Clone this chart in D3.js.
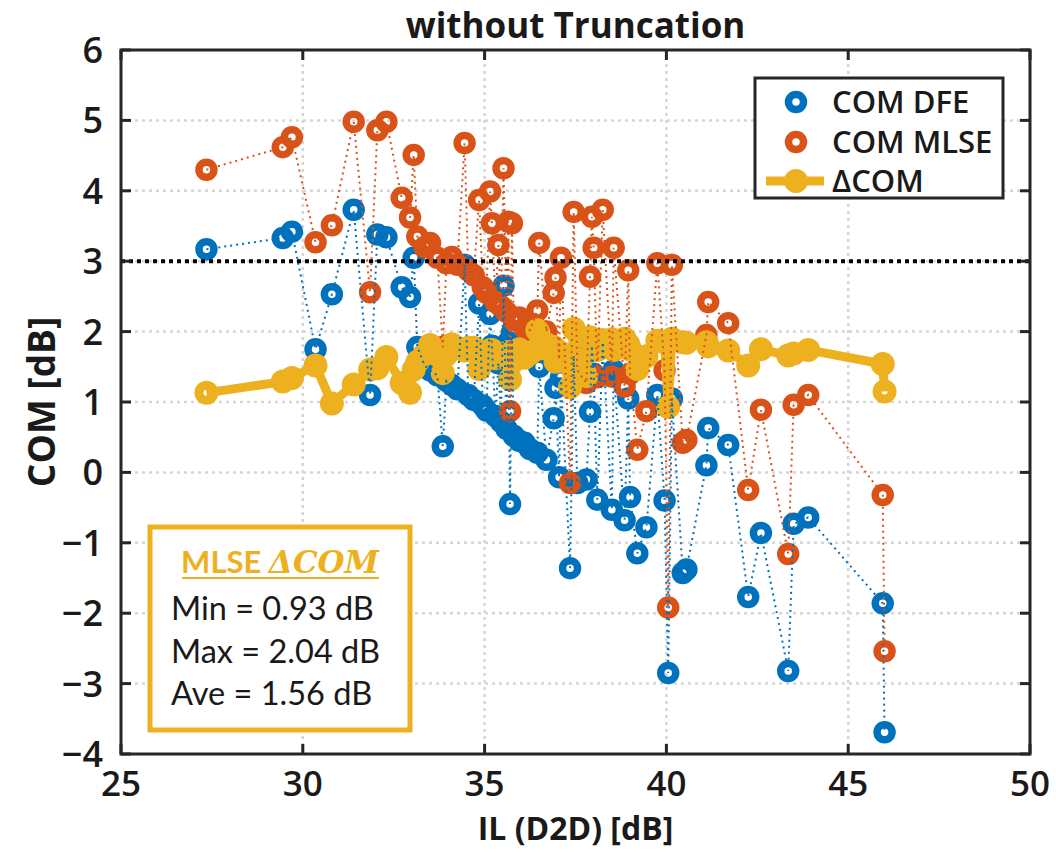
<!DOCTYPE html>
<html>
<head>
<meta charset="utf-8">
<script src="https://cdn.jsdelivr.net/npm/d3@7"></script>
<style>
  body { margin: 0; background: #fff; }
  svg text { font-family: "Open Sans", "DejaVu Sans", sans-serif; fill: #1a1a1a; }
</style>
</head>
<body>
<div id="chart"></div>
<script>
// IL (D2D) in dB, sorted ascending, with COM values
var il = [27.35, 29.45, 29.70, 30.35, 30.80, 31.40, 31.85, 32.05, 32.30, 32.72,
          32.95, 33.05, 33.15, 33.35, 33.50, 33.70, 33.85, 33.95, 34.10, 34.25,
          34.45, 34.55, 34.70, 34.85, 34.95, 35.05, 35.15, 35.20, 35.30, 35.38,
          35.45, 35.52, 35.60, 35.65, 35.70, 35.75, 35.80, 35.95, 36.10, 36.25,
          36.45, 36.50, 36.70, 36.90, 36.95, 37.05, 37.10, 37.35, 37.45, 37.55,
          37.80, 37.90, 37.95, 38.00, 38.10, 38.25, 38.50, 38.55, 38.85, 38.95,
          39.00, 39.20, 39.45, 39.75, 39.95, 40.05, 40.15, 40.45, 40.55, 41.10,
          41.15, 41.70, 42.25, 42.60, 43.35, 43.50, 43.90, 45.95, 46.00];

var comDfe = [3.17, 3.33, 3.42, 1.75, 2.53, 3.73, 1.10, 3.38, 3.34, 2.63,
              2.49, 3.05, 1.78, 1.52, 1.45, 1.38, 0.37, 1.30, 1.24, 1.18,
              2.95, 1.10, 1.03, 2.40, 0.95, 0.88, 2.25, 1.80, 0.80, 1.55,
              0.72, 2.65, 0.62, 1.85, -0.45, 1.98, 0.52, 0.45, 0.42, 0.33,
              0.28, 1.50, 0.18, 0.77, 1.20, -0.07, 1.35, -1.36, 1.66, -0.15,
              -0.10, 0.86, 1.80, 1.40, -0.39, 1.85, -0.53, 1.45, -0.68, 1.05,
              -0.35, -1.15, -0.78, 1.10, -0.40, -2.85, 1.05, -1.43, -1.38, 0.10,
              0.63, 0.39, -1.77, -0.86, -2.82, -0.73, -0.64, -1.86, -3.69];

var comMlse = [4.30, 4.62, 4.76, 3.27, 3.51, 4.98, 2.56, 4.86, 4.98, 3.90,
               3.62, 4.51, 3.35, 3.20, 3.26, 3.05, 1.78, 2.97, 3.06, 2.95,
               4.68, 2.87, 2.80, 3.87, 2.63, 2.55, 3.99, 3.54, 2.42, 3.23,
               2.36, 4.32, 2.28, 3.56, 0.87, 3.54, 2.16, 2.20, 2.05, 2.02,
               2.30, 3.26, 2.00, 2.55, 2.77, 1.60, 3.05, -0.15, 3.70, 1.45,
               1.27, 2.78, 3.63, 3.19, 1.35, 3.73, 1.36, 3.19, 1.22, 2.87,
               1.40, 0.32, 0.87, 2.97, 1.45, -1.92, 2.95, 0.42, 0.46, 1.95,
               2.42, 2.12, -0.25, 0.89, -1.16, 0.96, 1.10, -0.32, -2.54];

var deltaCom = [1.13, 1.29, 1.34, 1.52, 0.98, 1.25, 1.46, 1.48, 1.64, 1.27,
                1.13, 1.46, 1.57, 1.68, 1.81, 1.67, 1.41, 1.67, 1.82, 1.77,
                1.73, 1.77, 1.77, 1.47, 1.68, 1.67, 1.74, 1.74, 1.62, 1.68,
                1.64, 1.67, 1.66, 1.71, 1.32, 1.56, 1.64, 1.75, 1.63, 1.69,
                2.02, 1.76, 1.82, 1.78, 1.57, 1.67, 1.70, 1.21, 2.04, 1.60,
                1.37, 1.92, 1.83, 1.79, 1.74, 1.88, 1.89, 1.74, 1.90, 1.82,
                1.75, 1.47, 1.65, 1.87, 1.85, 0.93, 1.90, 1.85, 1.84, 1.85,
                1.79, 1.73, 1.52, 1.75, 1.66, 1.69, 1.74, 1.54, 1.15];

var xTicks = [25, 30, 35, 40, 45, 50];
var yTicks = [-4, -3, -2, -1, 0, 1, 2, 3, 4, 5, 6];
var threshold = 3;
var legendLabels = ["COM DFE", "COM MLSE", "\u0394COM"];
var statLines = ["Min = 0.93 dB", "Max = 2.04 dB", "Ave = 1.56 dB"];

var colors = ["#0072BD", "#D95319", "#EDB120"];

var W = 1056, H = 852;
var margin = { top: 50, right: 26, bottom: 98, left: 121 };
var width = W - margin.left - margin.right,
    height = H - margin.top - margin.bottom;

var svg = d3.select("#chart").append("svg")
    .attr("width", W)
    .attr("height", H);

var g = svg.append("g")
    .attr("transform", `translate(${margin.left},${margin.top})`);

var x = d3.scaleLinear().domain([25, 50]).range([0, width]);
var y = d3.scaleLinear().domain([-4, 6]).range([height, 0]);

// grid
g.append("g").selectAll("line")
    .data(xTicks.slice(1, -1))
    .enter().append("line")
    .attr("x1", d => x(d)).attr("x2", d => x(d))
    .attr("y1", 0).attr("y2", height)
    .style("stroke", "#d6d6d6").style("stroke-width", 2.5)
    .style("stroke-dasharray", "3,4");

g.append("g").selectAll("line")
    .data(yTicks.slice(1, -1))
    .enter().append("line")
    .attr("x1", 0).attr("x2", width)
    .attr("y1", d => y(d)).attr("y2", d => y(d))
    .style("stroke", "#d6d6d6").style("stroke-width", 2.5)
    .style("stroke-dasharray", "3,4");

var pts = il.map((v, i) => ({ il: v, dfe: comDfe[i], mlse: comMlse[i], delta: deltaCom[i] }));

function line(key) {
    return d3.line().x(d => x(d.il)).y(d => y(d[key]));
}

// markers of DFE and MLSE
[["dfe", colors[0]], ["mlse", colors[1]]].forEach(function(s) {
    g.append("g").selectAll("circle")
        .data(pts)
        .enter().append("circle")
        .attr("cx", d => x(d.il))
        .attr("cy", d => y(d[s[0]]))
        .attr("r", 7.5)
        .style("fill", "none")
        .style("stroke", s[1])
        .style("stroke-width", 7.5);
});

// delta COM line with markers
g.append("path")
    .datum(pts)
    .attr("d", line("delta"))
    .style("fill", "none")
    .style("stroke", colors[2])
    .style("stroke-width", 9)
    .style("stroke-linejoin", "round");

g.append("g").selectAll("circle")
    .data(pts)
    .enter().append("circle")
    .attr("cx", d => x(d.il))
    .attr("cy", d => y(d.delta))
    .attr("r", 7.5)
    .style("fill", "none")
    .style("stroke", colors[2])
    .style("stroke-width", 9);

// dotted connecting lines
[["dfe", colors[0]], ["mlse", colors[1]]].forEach(function(s) {
    g.append("path")
        .datum(pts)
        .attr("d", line(s[0]))
        .style("fill", "none")
        .style("stroke", s[1])
        .style("stroke-width", 2)
        .style("stroke-dasharray", "2,4");
});

// COM threshold
g.append("line")
    .attr("x1", 0).attr("x2", width)
    .attr("y1", y(threshold)).attr("y2", y(threshold))
    .style("stroke", "#000")
    .style("stroke-width", 4)
    .style("stroke-dasharray", "4,4");

// box and ticks
g.append("rect")
    .attr("width", width).attr("height", height)
    .style("fill", "none").style("stroke", "#262626").style("stroke-width", 3);

var tl = 10;
xTicks.forEach(function(t) {
    g.append("line").attr("x1", x(t)).attr("x2", x(t)).attr("y1", height).attr("y2", height - tl)
        .style("stroke", "#262626").style("stroke-width", 3);
    g.append("line").attr("x1", x(t)).attr("x2", x(t)).attr("y1", 0).attr("y2", tl)
        .style("stroke", "#262626").style("stroke-width", 3);
    g.append("text").text(t)
        .attr("x", x(t)).attr("y", height + 42)
        .style("text-anchor", "middle").style("font-size", "35px").style("font-weight", 600);
});
yTicks.forEach(function(t) {
    g.append("line").attr("x1", 0).attr("x2", tl).attr("y1", y(t)).attr("y2", y(t))
        .style("stroke", "#262626").style("stroke-width", 3);
    g.append("line").attr("x1", width).attr("x2", width - tl).attr("y1", y(t)).attr("y2", y(t))
        .style("stroke", "#262626").style("stroke-width", 3);
    g.append("text").text(d3.format("")(t))
        .attr("x", -18).attr("y", y(t) + 13)
        .style("text-anchor", "end").style("font-size", "36px").style("font-weight", 600);
});

// title and axis labels
svg.append("text").text("without Truncation")
    .attr("x", margin.left + width / 2).attr("y", 38)
    .style("text-anchor", "middle").style("font-size", "35px").style("font-weight", 700);

svg.append("text").text("IL (D2D) [dB]")
    .attr("x", margin.left + width / 2).attr("y", 840)
    .style("text-anchor", "middle").style("font-size", "32px").style("font-weight", 700);

svg.append("text").text("COM [dB]")
    .attr("transform", `translate(55,${margin.top + height / 2}) rotate(-90)`)
    .style("text-anchor", "middle").style("font-size", "37px").style("font-weight", 700);

// legend
var leg = svg.append("g").attr("id", "legend");
leg.append("rect")
    .attr("x", 755).attr("y", 78).attr("width", 248).attr("height", 120)
    .style("fill", "#fff").style("stroke", "#262626").style("stroke-width", 3);

var legY = [102, 142, 181];
legendLabels.forEach(function(lab, i) {
    if (i === 2) {
        leg.append("line").attr("x1", 766).attr("x2", 824).attr("y1", legY[i]).attr("y2", legY[i])
            .style("stroke", colors[2]).style("stroke-width", 9);
    }
    leg.append("circle").attr("cx", 796).attr("cy", legY[i]).attr("r", 7.5)
        .style("fill", "none").style("stroke", colors[i]).style("stroke-width", i === 2 ? 9 : 7.5);
    leg.append("text").text(lab)
        .attr("x", 832).attr("y", legY[i] + 11)
        .style("font-size", "31px").style("font-weight", 600);
});

// stats box
var box = svg.append("g");
box.append("rect")
    .attr("x", 150).attr("y", 527).attr("width", 260).attr("height", 203)
    .style("fill", "#fff").style("stroke", colors[2]).style("stroke-width", 5);

var head = box.append("text")
    .attr("x", 280).attr("y", 573)
    .style("text-anchor", "middle").style("font-size", "31px")
    .style("font-family", "Lato, sans-serif").style("font-weight", 700);
head.append("tspan").text("MLSE ").style("fill", colors[2]);
head.append("tspan").text("\u0394COM").style("fill", colors[2])
    .style("font-family", "'DejaVu Serif', serif").style("font-style", "italic");

box.append("line").attr("x1", 182).attr("x2", 379).attr("y1", 578).attr("y2", 578)
    .style("stroke", colors[2]).style("stroke-width", 2);

statLines.forEach(function(s, i) {
    box.append("text").text(s)
        .attr("x", 171).attr("y", 620 + i * 42.5)
        .style("font-family", "Lato, sans-serif")
        .style("font-size", "32.5px");
});
</script>
</body>
</html>
